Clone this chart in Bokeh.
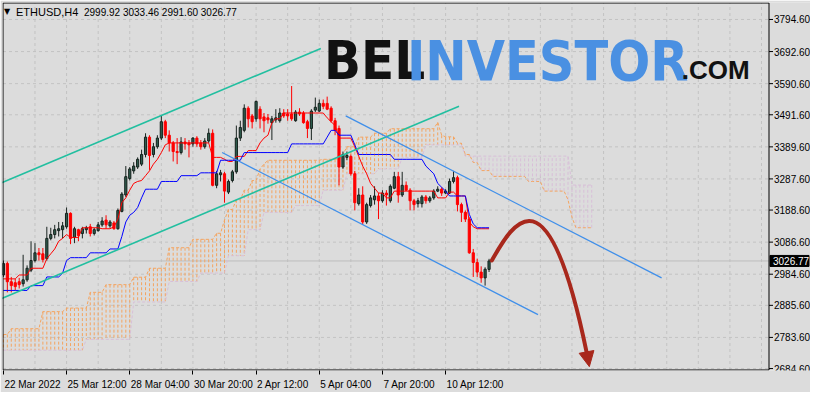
from bokeh.plotting import figure
from bokeh.models import (Range1d, FixedTicker, Label, Arrow, NormalHead, ColumnDataSource)
from bokeh.core.properties import value
from bokeh.embed import file_html
from bokeh.resources import INLINE

# ---------------- data ----------------
symbol = "ETHUSD,H4"
last_ohlc = "2999.92 3033.46 2991.60 3026.77"
last_price = 3026.77

opens = [
    2982.1, 3018.8, 2960.6, 2957.5, 2960.6, 2954.4, 2966.7, 2997.4, 3028.0, 3052.6,
    3049.5, 3034.2, 3098.5, 3110.8, 3123.1, 3126.2, 3135.4, 3178.2, 3101.6, 3126.2,
    3113.9, 3126.2, 3135.4, 3113.9, 3123.1, 3141.5, 3156.8, 3138.4, 3147.6, 3129.2,
    3184.4, 3236.5, 3288.7, 3313.1, 3325.4, 3334.6, 3365.3, 3420.5, 3365.3, 3389.9,
    3417.4, 3469.5, 3426.6, 3402.1, 3374.6, 3371.4, 3405.1, 3402.1, 3399.0, 3417.4,
    3402.1, 3389.9, 3408.2, 3432.8, 3267.2, 3300.9, 3304.0, 3245.7, 3282.5, 3310.1,
    3417.4, 3442.0, 3512.5, 3487.9, 3478.7, 3509.4, 3484.8, 3481.8, 3466.5, 3475.6,
    3472.6, 3497.2, 3494.1, 3494.1, 3472.6, 3500.3, 3497.2, 3469.5, 3448.1, 3506.4,
    3503.3, 3527.8, 3527.8, 3512.5, 3472.6, 3448.1, 3325.4, 3356.1, 3359.2, 3304.0,
    3208.9, 3236.5, 3150.7, 3202.8, 3221.2, 3233.4, 3218.1, 3242.6, 3218.1, 3258.0,
    3294.8, 3236.5, 3267.2, 3251.8, 3218.1, 3208.9, 3208.9, 3230.3, 3218.1, 3227.3,
    3248.8, 3254.9, 3242.6, 3242.6, 3279.5, 3291.7, 3205.9, 3181.3, 3159.8, 3052.6,
    3021.9, 2991.3, 2972.9, 2999.92]
highs = [
    3028.0, 3024.9, 2975.9, 2969.8, 2972.9, 3046.4, 3012.7, 3089.4, 3083.3, 3067.9,
    3067.9, 3135.4, 3132.3, 3141.5, 3150.7, 3150.7, 3196.7, 3181.3, 3135.4, 3129.2,
    3135.4, 3138.4, 3144.6, 3132.3, 3150.7, 3166.0, 3172.1, 3156.8, 3153.7, 3193.6,
    3245.7, 3328.5, 3325.4, 3340.8, 3356.1, 3380.7, 3432.8, 3426.6, 3402.1, 3426.6,
    3487.9, 3475.6, 3442.0, 3408.2, 3417.4, 3420.5, 3417.4, 3411.3, 3420.5, 3423.5,
    3411.3, 3417.4, 3448.1, 3445.0, 3313.1, 3316.3, 3310.1, 3285.6, 3316.3, 3457.3,
    3472.6, 3524.7, 3518.6, 3494.1, 3537.0, 3518.6, 3497.2, 3494.1, 3487.9, 3509.4,
    3512.5, 3509.4, 3509.4, 3583.0, 3506.4, 3512.5, 3503.3, 3475.6, 3509.4, 3546.2,
    3540.1, 3540.1, 3549.3, 3518.6, 3481.8, 3457.3, 3374.6, 3374.6, 3365.3, 3313.1,
    3258.0, 3264.1, 3212.0, 3236.5, 3264.1, 3242.6, 3251.8, 3251.8, 3270.2, 3310.1,
    3310.1, 3310.1, 3279.5, 3258.0, 3224.2, 3227.3, 3236.5, 3236.5, 3233.4, 3254.9,
    3264.1, 3261.0, 3254.9, 3288.7, 3313.1, 3297.9, 3212.0, 3187.4, 3166.0, 3064.9,
    3034.2, 3009.7, 3006.6, 3033.46]
lows = [
    2975.9, 2926.9, 2926.9, 2933.0, 2939.1, 2945.2, 2960.6, 2991.3, 3021.9, 3028.0,
    3021.9, 3028.0, 3092.4, 3098.5, 3104.7, 3098.5, 3129.2, 3080.2, 3083.3, 3089.4,
    3098.5, 3113.9, 3104.7, 3107.7, 3120.0, 3135.4, 3129.2, 3132.3, 3126.2, 3126.2,
    3181.3, 3230.3, 3282.5, 3304.0, 3319.3, 3328.5, 3356.1, 3316.3, 3356.1, 3383.7,
    3411.3, 3417.4, 3374.6, 3343.1, 3334.6, 3365.3, 3380.7, 3356.1, 3389.9, 3389.9,
    3380.7, 3383.7, 3402.1, 3264.1, 3258.0, 3279.5, 3212.0, 3239.5, 3276.4, 3304.0,
    3408.2, 3435.9, 3451.2, 3448.1, 3469.5, 3448.1, 3435.9, 3463.2, 3411.3, 3466.5,
    3466.5, 3481.8, 3472.6, 3472.6, 3469.5, 3487.9, 3463.2, 3417.4, 3411.3, 3500.3,
    3500.3, 3509.4, 3506.4, 3466.5, 3426.6, 3267.2, 3319.3, 3346.9, 3297.9, 3187.4,
    3202.8, 3141.5, 3144.6, 3196.7, 3205.9, 3159.9, 3212.0, 3202.8, 3212.0, 3254.9,
    3212.0, 3230.3, 3248.8, 3187.4, 3187.4, 3196.7, 3196.7, 3208.9, 3212.0, 3221.2,
    3245.7, 3233.4, 3239.5, 3239.5, 3273.3, 3184.4, 3150.7, 3150.7, 3049.5, 2975.9,
    2975.9, 2957.5, 2948.3, 2991.60]
closes = [
    3018.8, 2960.6, 2948.3, 2945.2, 2951.4, 2966.7, 3003.5, 3028.0, 3052.6, 3046.4,
    3031.1, 3098.5, 3110.8, 3126.2, 3129.2, 3138.4, 3178.2, 3098.5, 3129.2, 3107.7,
    3129.2, 3132.3, 3113.9, 3126.2, 3141.5, 3153.7, 3141.5, 3150.7, 3129.2, 3187.5,
    3239.5, 3294.8, 3319.3, 3328.5, 3350.0, 3365.3, 3420.5, 3362.2, 3389.9, 3417.4,
    3469.5, 3426.6, 3402.1, 3374.6, 3371.4, 3405.1, 3399.0, 3396.0, 3417.4, 3399.0,
    3389.9, 3408.2, 3432.8, 3267.2, 3304.0, 3307.0, 3248.8, 3279.5, 3310.1, 3417.4,
    3451.2, 3512.5, 3478.7, 3469.5, 3534.0, 3478.7, 3472.6, 3475.6, 3478.7, 3481.8,
    3497.2, 3487.9, 3487.9, 3478.7, 3500.3, 3494.1, 3466.5, 3448.1, 3503.3, 3515.5,
    3527.8, 3518.6, 3509.4, 3472.6, 3442.0, 3325.4, 3365.3, 3362.2, 3304.0, 3212.0,
    3236.5, 3150.7, 3205.9, 3227.3, 3233.4, 3218.1, 3242.6, 3236.5, 3264.1, 3294.8,
    3236.5, 3267.2, 3251.8, 3218.1, 3205.9, 3218.1, 3230.3, 3218.1, 3227.3, 3248.8,
    3254.9, 3242.6, 3248.8, 3279.5, 3291.7, 3205.9, 3181.3, 3159.8, 3052.6, 3021.9,
    2991.3, 2972.9, 3000.5, 3026.77]

tenkan = [
    2969.8, 2969.8, 2969.8, 2969.8, 2982.1, 2982.1, 2982.1, 3003.5, 3003.5, 3003.5,
    3003.5, 3034.2, 3049.5, 3064.9, 3089.4, 3098.5, 3110.8, 3101.6, 3101.6, 3101.6,
    3132.3, 3132.3, 3132.3, 3132.3, 3132.3, 3129.2, 3129.2, 3129.2, 3135.4, 3159.8,
    3212.0, 3227.3, 3251.8, 3273.3, 3279.5, 3282.5, 3297.9, 3313.1, 3334.6, 3350.0,
    3371.4, 3396.0, 3402.1, 3402.1, 3402.1, 3402.1, 3402.1, 3402.1, 3402.1, 3402.1,
    3402.1, 3402.1, 3402.1, 3356.1, 3356.1, 3356.1, 3350.0, 3343.1, 3343.1, 3359.2,
    3359.2, 3359.2, 3377.6, 3377.6, 3377.6, 3402.1, 3417.4, 3426.6, 3466.5, 3478.7,
    3478.7, 3497.2, 3497.2, 3497.2, 3497.2, 3497.2, 3497.2, 3497.2, 3497.2, 3497.2,
    3497.2, 3497.2, 3481.8, 3469.5, 3457.3, 3417.4, 3417.4, 3417.4, 3417.4, 3389.9,
    3359.2, 3328.5, 3304.0, 3273.3, 3258.0, 3242.6, 3242.6, 3227.3, 3227.3, 3248.8,
    3248.8, 3248.8, 3248.8, 3248.8, 3248.8, 3248.8, 3248.8, 3248.8, 3248.8, 3248.8,
    3227.3, 3227.3, 3227.3, 3245.7, 3245.7, 3233.4, 3233.4, 3233.4, 3150.7, 3135.4,
    3129.2, 3129.2, 3129.2, 3129.2]
kijun = [
    2933.0, 2933.0, 2933.0, 2933.0, 2933.0, 2933.0, 2933.0, 2948.3, 2948.3, 2948.3,
    2948.3, 2975.9, 2975.9, 2975.9, 2975.9, 2988.2, 3028.0, 3037.2, 3037.2, 3037.2,
    3037.2, 3037.2, 3052.6, 3052.6, 3052.6, 3052.6, 3052.6, 3064.9, 3064.9, 3064.9,
    3104.7, 3150.7, 3172.1, 3181.3, 3196.7, 3227.3, 3254.9, 3254.9, 3254.9, 3254.9,
    3279.5, 3279.5, 3279.5, 3279.5, 3279.5, 3297.9, 3297.9, 3297.9, 3297.9, 3297.9,
    3307.0, 3307.0, 3307.0, 3307.0, 3307.0, 3346.9, 3346.9, 3346.9, 3346.9, 3346.9,
    3346.9, 3371.4, 3371.4, 3371.4, 3371.4, 3371.4, 3371.4, 3371.4, 3371.4, 3371.4,
    3371.4, 3371.4, 3371.4, 3399.0, 3399.0, 3399.0, 3399.0, 3399.0, 3399.0, 3399.0,
    3399.0, 3399.0, 3420.5, 3442.0, 3442.0, 3426.6, 3426.6, 3426.6, 3426.6, 3396.0,
    3365.3, 3365.3, 3365.3, 3365.3, 3365.3, 3365.3, 3365.3, 3365.3, 3365.3, 3350.0,
    3350.0, 3350.0, 3350.0, 3350.0, 3350.0, 3350.0, 3350.0, 3328.5, 3316.3, 3304.0,
    3273.3, 3261.0, 3248.8, 3233.4, 3233.4, 3233.4, 3233.4, 3233.4, 3175.2, 3144.6,
    3132.3, 3132.3, 3132.3, 3132.3]
span_a = [
    2792.9, 2792.9, 2811.3, 2811.3, 2811.3, 2811.3, 2811.3, 2811.3, 2811.3, 2811.3,
    2865.6, 2865.6, 2865.6, 2865.6, 2865.6, 2865.6, 2876.9, 2876.9, 2876.9, 2876.9,
    2876.9, 2876.9, 2926.9, 2926.9, 2926.9, 2926.9, 2951.4, 2951.4, 2951.4, 2951.4,
    2951.4, 2951.4, 2951.4, 2975.0, 2975.0, 2975.0, 2975.0, 3003.5, 3003.5, 3003.5,
    3003.5, 3003.5, 3068.8, 3068.8, 3068.8, 3068.8, 3068.8, 3068.8, 3095.5, 3095.5,
    3095.5, 3095.5, 3095.5, 3095.5, 3114.8, 3114.8, 3156.8, 3190.5, 3190.5, 3221.2,
    3221.2, 3251.8, 3251.8, 3282.5, 3282.5, 3319.3, 3334.6, 3346.9, 3346.9, 3346.9,
    3346.9, 3346.9, 3346.9, 3346.9, 3346.9, 3346.9, 3346.9, 3346.9, 3346.9, 3346.9,
    3346.9, 3350.0, 3350.0, 3350.0, 3350.0, 3350.0, 3365.3, 3389.9, 3389.9, 3389.9,
    3420.5, 3420.5, 3420.5, 3420.5, 3432.8, 3432.8, 3432.8, 3432.8, 3447.2, 3447.2,
    3447.2, 3447.2, 3447.2, 3447.2, 3447.2, 3447.2, 3447.2, 3447.2, 3447.2, 3447.2,
    3467.4, 3426.6, 3421.4, 3421.4, 3421.4, 3401.1, 3401.1, 3365.3, 3365.3, 3339.8,
    3339.8, 3314.1, 3314.1, 3314.1, 3295.7, 3295.7, 3295.7, 3295.7, 3295.7, 3295.7,
    3295.7, 3295.7, 3295.7, 3279.5, 3279.5, 3279.5, 3279.5, 3248.8, 3248.8, 3248.8,
    3248.8, 3248.8, 3248.8, 3221.2, 3166.0, 3132.3, 3132.3, 3132.3, 3132.3, 3132.3]
span_b = [
    2742.9, 2742.9, 2742.9, 2742.9, 2742.9, 2742.9, 2742.9, 2742.9, 2742.9, 2742.9,
    2742.9, 2742.9, 2742.9, 2742.9, 2742.9, 2742.9, 2742.9, 2742.9, 2742.9, 2742.9,
    2742.9, 2777.5, 2777.5, 2777.5, 2777.5, 2777.5, 2777.5, 2777.5, 2777.5, 2777.5,
    2777.5, 2777.5, 2777.5, 2896.2, 2896.2, 2896.2, 2896.2, 2896.2, 2896.2, 2896.2,
    2896.2, 2896.2, 2961.5, 2961.5, 2961.5, 2961.5, 2961.5, 2961.5, 2961.5, 2961.5,
    2988.2, 2988.2, 2988.2, 2988.2, 2988.2, 2988.2, 2988.2, 3043.4, 3043.4, 3043.4,
    3043.4, 3043.4, 3126.2, 3126.2, 3126.2, 3126.2, 3181.3, 3181.3, 3181.3, 3181.3,
    3181.3, 3181.3, 3181.3, 3181.3, 3202.8, 3202.8, 3202.8, 3202.8, 3202.8, 3202.8,
    3202.8, 3251.8, 3251.8, 3251.8, 3251.8, 3251.8, 3251.8, 3304.0, 3304.0, 3304.0,
    3304.0, 3304.0, 3304.0, 3304.0, 3304.0, 3319.3, 3319.3, 3319.3, 3319.3, 3319.3,
    3319.3, 3356.1, 3356.1, 3356.1, 3356.1, 3356.1, 3356.1, 3396.0, 3396.0, 3396.0,
    3396.0, 3396.0, 3396.0, 3396.0, 3396.0, 3396.0, 3396.0, 3360.1, 3360.1, 3360.1,
    3360.1, 3360.1, 3360.1, 3360.1, 3360.1, 3360.1, 3360.1, 3360.1, 3360.1, 3360.1,
    3360.1, 3360.1, 3360.1, 3360.1, 3360.1, 3360.1, 3360.1, 3360.1, 3360.1, 3360.1,
    3360.1, 3360.1, 3360.1, 3360.1, 3268.1, 3268.1, 3268.1, 3268.1, 3268.1, 3268.1]

ytick_values = [2684.6, 2783.6, 2885.6, 2984.6, 3086.6, 3188.6,
                3287.6, 3389.6, 3491.6, 3590.6, 3692.6, 3794.6]
xtick_bars = [0, 16, 32, 48, 64, 80, 96, 112]
xtick_labels = ["22 Mar 2022", "25 Mar 12:00", "28 Mar 04:00", "30 Mar 20:00",
                "2 Apr 12:00", "5 Apr 04:00", "7 Apr 20:00", "10 Apr 12:00"]

# trend channels (bar index, price) endpoints
green_x0 = [-0.8, -0.8]
green_y0 = [3273.4, 2905.4]
green_x1 = [80.4, 115.4]
green_y1 = [3702.6, 3518.6]
blue_x0 = [86.7, 55.4]
blue_y0 = [3488.0, 3371.5]
blue_x1 = [166.7, 135.4]
blue_y1 = [2972.9, 2856.3]

# forecast curve (bezier) and arrow tip
curve_start = (123.7, 3028.2)
curve_c1 = (129.2, 3150.7)
curve_c2 = (137.9, 3334.7)
curve_end = (147.7, 2736.7)
arrow_tip = (148.4, 2690.7)

# logo words
logo_words = ["BEL", "INVESTOR", ".COM"]

# ---------------- layout / style ----------------
BG = "#DCDCDC"
GRID = "#C3C3C3"
FONT = "Liberation Sans"
XL, XR = -0.1, 193.9          # chart box (bars)
YB, YT = 2680.0, 3847.0       # chart box (price)
BOX_W = 766                   # px width of chart box
FRAME_W, FH = 808, 368
ppb = BOX_W / (XR - XL)
ppu = (FH - 1) / (YT - YB)
x_start = XL - 0.5 / ppb
x_end = x_start + FRAME_W / ppb
y_start = YB - 0.5 / ppu
y_end = YT + 0.5 / ppu

p = figure(frame_width=FRAME_W, frame_height=FH,
           x_range=Range1d(x_start, x_end), y_range=Range1d(y_start, y_end),
           y_axis_location=None, output_backend="svg", toolbar_location=None,
           min_border_left=2, min_border_top=2, min_border_right=0, min_border_bottom=20,
           background_fill_color=BG, border_fill_color=BG, outline_line_color=None)
p.grid.visible = False

# grid inside the chart box
gx = [b for b in range(8, 194, 8)]
p.segment(x0=gx, y0=YB, x1=gx, y1=YT, line_color=GRID, line_dash="3 3", line_width=1)
p.segment(x0=XL, y0=ytick_values, x1=XR, y1=ytick_values,
          line_color=GRID, line_dash="3 3", line_width=1)

# bid line
p.segment(x0=[XL], y0=[last_price], x1=[XR], y1=[last_price], line_color="#BDBDBD", line_width=1)

# bottom time axis: labels start at their tick (MT4 style)
ARIAL_W = {" ": 0.278, ":": 0.278, "M": 0.833, "a": 0.556, "r": 0.333,
           "A": 0.667, "p": 0.556}
def text_width(s, size):
    return size * sum(ARIAL_W.get(ch, 0.556) for ch in s)
XFS = 10
label_pos = [round(b + (text_width(s, XFS) / 2 + 1.0) / ppb, 3)
             for b, s in zip(xtick_bars, xtick_labels)]
xa = p.xaxis[0]
xa.ticker = FixedTicker(ticks=label_pos, minor_ticks=xtick_bars)
xa.major_label_overrides = {pos: s for pos, s in zip(label_pos, xtick_labels)}
xa.major_tick_out = 0
xa.major_tick_in = 0
xa.minor_tick_out = 4
xa.minor_tick_in = 0
xa.minor_tick_line_color = "black"
xa.axis_line_color = None
xa.major_label_standoff = 4
xa.major_label_text_font = FONT
xa.major_label_text_font_size = "%dpx" % XFS
xa.major_label_text_color = "black"

# Ichimoku cloud (vertical dotted hatches)
cloud_bars = list(range(len(span_a)))
up = [i for i in cloud_bars if span_a[i] >= span_b[i]]
dn = [i for i in cloud_bars if span_a[i] < span_b[i]]
src_up = ColumnDataSource(dict(x=up, a=[span_a[i] for i in up], b=[span_b[i] for i in up]))
src_dn = ColumnDataSource(dict(x=dn, a=[span_a[i] for i in dn], b=[span_b[i] for i in dn]))
p.segment(x0="x", y0="a", x1="x", y1="b", source=src_up,
          line_color="#F4A460", line_dash="3 2", line_width=1)
p.segment(x0="x", y0="a", x1="x", y1="b", source=src_dn,
          line_color="#D8BFD8", line_dash="3 2", line_width=1)
p.line(cloud_bars, span_a, line_color="#F4A460", line_dash="3 2", line_width=1)
p.line(cloud_bars, span_b, line_color="#D8BFD8", line_dash="3 2", line_width=1)

# candles
bars = list(range(len(closes)))
def candle_src(idx):
    return ColumnDataSource(dict(
        x=idx,
        h=[highs[i] for i in idx], l=[lows[i] for i in idx],
        top=[max(opens[i], closes[i]) for i in idx],
        bot=[min(opens[i], closes[i]) for i in idx]))
bull = [i for i in bars if closes[i] >= opens[i]]
bear = [i for i in bars if closes[i] < opens[i]]
sb, sr = candle_src(bull), candle_src(bear)
p.segment(x0="x", y0="h", x1="x", y1="l", source=sb, line_color="#1A2420", line_width=1)
p.vbar(x="x", width=0.55, top="top", bottom="bot", source=sb,
       fill_color="#2F5E4F", line_color="#15201C", line_width=1)
p.segment(x0="x", y0="h", x1="x", y1="l", source=sr, line_color="#FF0000", line_width=1)
p.vbar(x="x", width=0.55, top="top", bottom="bot", source=sr,
       fill_color="#FF0000", line_color="#FF0000", line_width=1)

# Tenkan / Kijun
p.line(bars, tenkan, line_color="#FF0000", line_width=1)
p.line(bars, kijun, line_color="#0000FF", line_width=1)

# channels
p.segment(x0=green_x0, y0=green_y0, x1=green_x1, y1=green_y1,
          line_color="#22BFA0", line_width=1.6)
p.segment(x0=blue_x0, y0=blue_y0, x1=blue_x1, y1=blue_y1,
          line_color="#3F8FEA", line_width=1.3)

# forecast curve + arrow
CURVE = "#A8281C"
p.bezier(x0=[curve_start[0]], y0=[curve_start[1]], x1=[curve_end[0]], y1=[curve_end[1]],
         cx0=[curve_c1[0]], cy0=[curve_c1[1]], cx1=[curve_c2[0]], cy1=[curve_c2[1]],
         line_color=CURVE, line_width=4, line_cap="round")
p.add_layout(Arrow(end=NormalHead(size=15, fill_color=CURVE, line_color=CURVE, line_width=1),
                   x_start=curve_end[0], y_start=curve_end[1],
                   x_end=arrow_tip[0], y_end=arrow_tip[1],
                   line_color=CURVE, line_width=4))

# chart box border
p.segment(x0=[XL, XL, XL, XR], y0=[YB, YT, YB, YB], x1=[XR, XR, XL, XR], y1=[YB, YT, YT, YT],
          line_color="black", line_width=1)

# right price scale (ticks + labels) beside the chart box
p.segment(x0=XR, y0=ytick_values, x1=XR + 4 / ppb, y1=ytick_values,
          line_color="black", line_width=1)
p.text(x=XR + 5 / ppb, y=ytick_values, text=["%.2f" % v for v in ytick_values],
       text_font=value(FONT), text_font_size="10px", text_color="black",
       text_baseline="middle", text_align="left")

# current price tag
p.quad(left=[XR + 1 / ppb], right=[XR + 40 / ppb],
       bottom=[last_price - 5.5 / ppu], top=[last_price + 5.5 / ppu],
       fill_color="black", line_color="black")
p.text(x=[XR + 4 / ppb], y=[last_price], text=["%.2f" % last_price],
       text_font=value(FONT), text_font_size="10px", text_color="white",
       text_baseline="middle", text_align="left")

# logo (text glyphs); the renderer sits the baseline ~0.34 em below the anchor,
# so each anchor is raised by that amount to put the baseline on LOGO_BASE
LOGO_BASE = 3604.5
LOGO_FONT = "Noto Sans ExtraCondensed, Noto Sans Condensed, DejaVu Sans Condensed, Liberation Sans"
def raised(fs):
    return LOGO_BASE + 0.34 * fs / ppu
p.text(x=[81.2], y=[raised(54)], text=[logo_words[0]], text_font=value(LOGO_FONT),
       text_font_style="bold", text_font_size="54px", text_color="#111111",
       text_baseline="alphabetic", text_align="left")
p.text(x=[102.2], y=[raised(55)], text=[logo_words[1]], text_font=value(LOGO_FONT),
       text_font_style="bold", text_font_size="55px", text_color="#4A90E2",
       text_baseline="alphabetic", text_align="left")
p.text(x=[171.8], y=[raised(26)], text=[logo_words[2]], text_font=value("Liberation Sans"),
       text_font_style="bold", text_font_size="26px", text_color="#111111",
       text_baseline="alphabetic", text_align="left")

# chart caption (top-left)
p.add_layout(Label(x=XL + 1 / ppb, y=YT - 4 / ppu, text="\u25BC",
                   text_font="DejaVu Sans", text_font_size="8px", text_color="black",
                   text_baseline="top"))
p.add_layout(Label(x=XL + 13 / ppb, y=YT - 3 / ppu, text=symbol,
                   text_font=FONT, text_font_size="11px", text_color="black",
                   text_baseline="top"))
p.add_layout(Label(x=XL + 81 / ppb, y=YT - 3.5 / ppu, text=last_ohlc,
                   text_font=FONT, text_font_size="10px", text_color="black",
                   text_baseline="top"))

open("out.html", "w").write(file_html(p, INLINE))
